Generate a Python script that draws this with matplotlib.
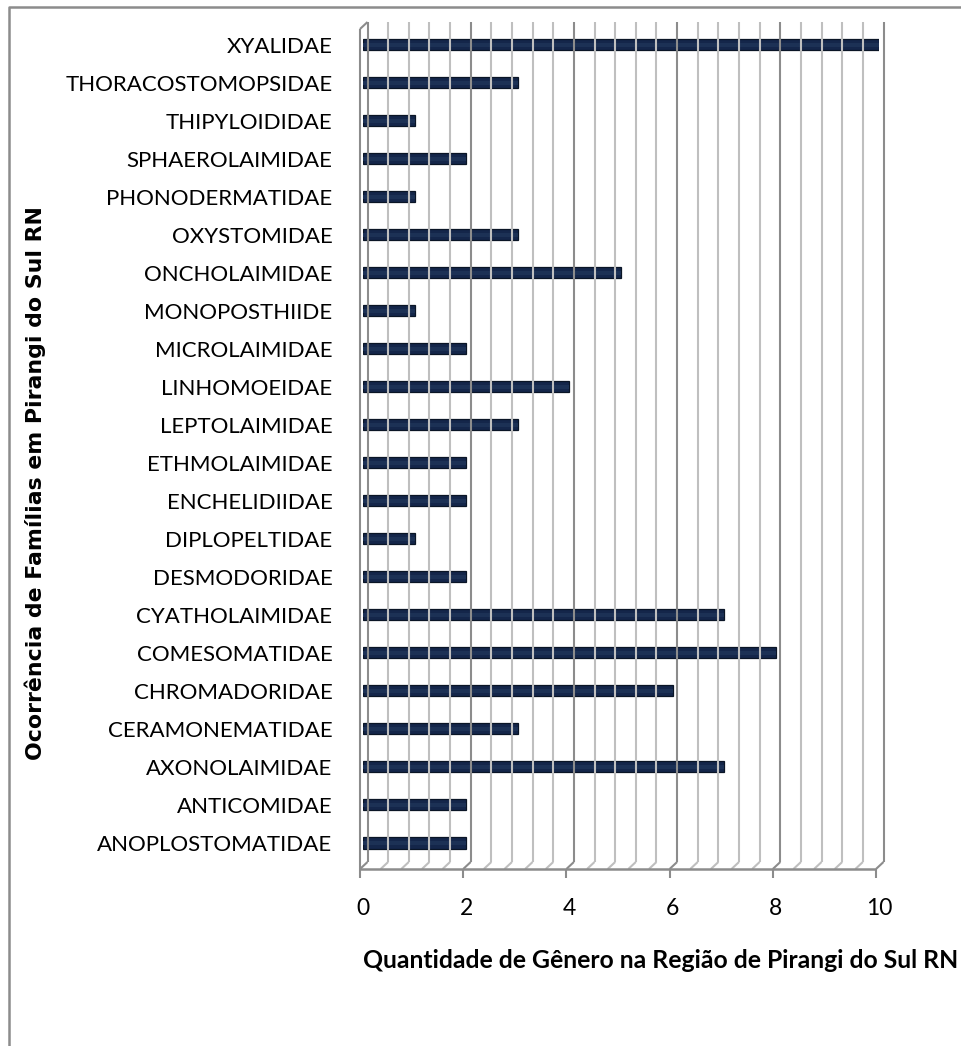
"""Ocorrência de famílias de nematódeos em Pirangi do Sul (RN) — barras horizontais."""
import matplotlib
matplotlib.use("Agg")
import matplotlib.pyplot as plt
from matplotlib.lines import Line2D
from matplotlib.transforms import IdentityTransform

plt.rcParams["font.family"] = ["Lato", "DejaVu Sans"]

# famílias de baixo para cima, como no eixo
familias = [
    "ANOPLOSTOMATIDAE", "ANTICOMIDAE", "AXONOLAIMIDAE", "CERAMONEMATIDAE",
    "CHROMADORIDAE", "COMESOMATIDAE", "CYATHOLAIMIDAE", "DESMODORIDAE",
    "DIPLOPELTIDAE", "ENCHELIDIIDAE", "ETHMOLAIMIDAE", "LEPTOLAIMIDAE",
    "LINHOMOEIDAE", "MICROLAIMIDAE", "MONOPOSTHIIDE", "ONCHOLAIMIDAE",
    "OXYSTOMIDAE", "PHONODERMATIDAE", "SPHAEROLAIMIDAE", "THIPYLOIDIDAE",
    "THORACOSTOMOPSIDAE", "XYALIDAE",
]
generos = [2, 2, 7, 3, 6, 8, 7, 2, 1, 2, 2, 3, 4, 2, 1, 5, 3, 1, 2, 1, 3, 10]

x_max = 10
ticks_x = [0, 2, 4, 6, 8, 10]
grade_menor = 0.4

titulo_x = "Quantidade de Gênero na Região de Pirangi do Sul RN"
titulo_y = "Ocorrência de Famílias em Pirangi do Sul RN"

W, H = 961, 1046
CINZA_CLARO = "#bfbfbf"
CINZA = "#8c8c8c"


def caixa(x0, y0, x1, y1):
    return [x0 / W, 1 - y1 / H, (x1 - x0) / W, (y1 - y0) / H]


fig = plt.figure(figsize=(W / 100, H / 100), dpi=100)
ax = fig.add_axes(caixa(363, 22, 879, 862))
ax.set_xlim(0, x_max)
ax.set_ylim(-0.5, len(familias) - 0.4)
for s in ax.spines.values():
    s.set_visible(False)

y = list(range(len(familias)))
ax.barh(y, generos, height=0.29, color="#14264a", edgecolor="#0a1526",
        linewidth=0.9, zorder=3)
ax.barh(y, generos, height=0.1, color="#1c3155", linewidth=0, zorder=4)

ax.set_yticks(y)
ax.set_yticklabels(familias, fontsize=16)
ax.tick_params(axis="y", length=0, pad=22)
ax.set_xticks(ticks_x)
ax.set_xticklabels([str(t) for t in ticks_x], fontsize=16.5)
ax.tick_params(axis="x", length=0, pad=26)

# parede do fundo e piso em perspectiva (deslocamentos em pixels)
fundo_dx, frente_dx, frente_dy = 4.5, -3, -7
y_base, y_topo = ax.get_ylim()


def linha(xs, ys, cor, lw=1.5):
    fig.add_artist(Line2D(xs, ys, color=cor, linewidth=lw,
                          transform=IdentityTransform(), zorder=1,
                          solid_capstyle="butt"))


n = int(round(x_max / grade_menor))
for i in range(n + 1):
    gx = i * grade_menor
    maior = abs(gx / 2 - round(gx / 2)) < 1e-6
    cor = CINZA if maior else CINZA_CLARO
    bx, by = ax.transData.transform((gx, y_base))
    _, ty = ax.transData.transform((gx, y_topo))
    bx += fundo_dx
    linha([bx, bx], [by, ty], cor)
    linha([bx, bx + frente_dx - fundo_dx], [by, by + frente_dy], cor)

# aresta frontal esquerda e piso
x0, yb = ax.transData.transform((0, y_base))
_, yt = ax.transData.transform((0, y_topo))
linha([x0 + frente_dx, x0 + frente_dx], [yb + frente_dy, yt + frente_dy], CINZA)
linha([x0 + frente_dx, x0 + fundo_dx], [yt + frente_dy, yt], CINZA)
x1, _ = ax.transData.transform((x_max, y_base))
linha([x0 + frente_dx, x1 + frente_dx], [yb + frente_dy, yb + frente_dy], CINZA, 1.8)
for t in ticks_x:
    tx, _ = ax.transData.transform((t, y_base))
    linha([tx + frente_dx, tx + frente_dx], [yb + frente_dy, yb + frente_dy - 9], CINZA)

fig.text(35 / W, 1 - 483 / H, titulo_y, rotation=90, ha="center", va="center",
         fontsize=15.8, fontweight="bold", family="DejaVu Sans")
fig.text(661 / W, 1 - 960 / H, titulo_x, ha="center", va="center",
         fontsize=17.8, fontweight="bold")

# moldura do gráfico
fig.add_artist(Line2D([9 / W, 9 / W, 1], [0, 1 - 7 / H, 1 - 7 / H],
                      transform=fig.transFigure, color=CINZA, linewidth=1.8))

fig.savefig("out.png", dpi=100)
